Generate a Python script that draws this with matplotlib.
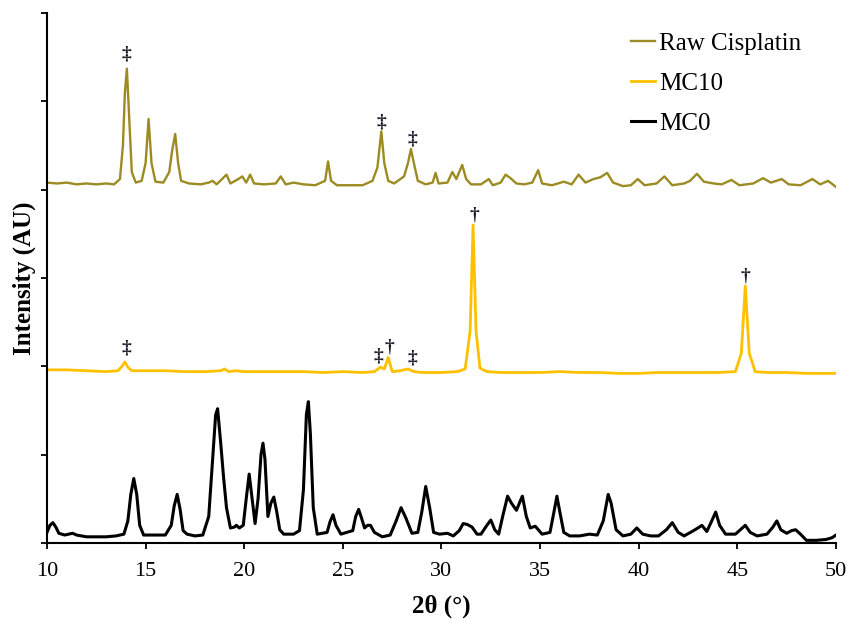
import matplotlib
matplotlib.use("Agg")
import matplotlib.pyplot as plt

# --- data (intensity in arbitrary units, offset stacked) ---
mc0_x = [10.0, 10.15, 10.3, 10.45, 10.6, 10.9, 11.1, 11.3, 11.5, 12.0, 12.5, 13.0, 13.5, 13.9,
         14.1, 14.25, 14.4, 14.55, 14.7, 14.9, 15.5, 16.0, 16.3, 16.45, 16.6, 16.75, 16.9, 17.1,
         17.5, 17.9, 18.2, 18.4, 18.55, 18.65, 18.8, 18.95, 19.1, 19.3, 19.5, 19.6, 19.75, 19.95,
         20.1, 20.25, 20.4, 20.55, 20.7, 20.85, 20.95, 21.05, 21.2, 21.35, 21.5, 21.65, 21.8, 22.0,
         22.5, 22.8, 23.0, 23.15, 23.25, 23.35, 23.5, 23.7, 24.2, 24.35, 24.5, 24.65, 24.9, 25.5,
         25.65, 25.8, 25.95, 26.1, 26.25, 26.4, 26.6, 27.0, 27.4, 27.7, 27.95, 28.2, 28.5, 28.8,
         29.0, 29.2, 29.4, 29.6, 29.9, 30.3, 30.6, 30.9, 31.1, 31.3, 31.55, 31.8, 32.0, 32.3,
         32.5, 32.7, 32.9, 33.1, 33.35, 33.55, 33.8, 34.0, 34.1, 34.3, 34.5, 34.75, 35.1, 35.5,
         35.7, 35.85, 36.0, 36.2, 36.5, 37.0, 37.5, 37.9, 38.2, 38.45, 38.6, 38.85, 39.2, 39.6,
         39.9, 40.2, 40.6, 41.0, 41.4, 41.7, 42.0, 42.3, 42.7, 43.0, 43.2, 43.45, 43.7, 43.9,
         44.1, 44.4, 44.9, 45.2, 45.4, 45.65, 46.0, 46.5, 46.8, 47.0, 47.2, 47.5, 47.75, 47.95,
         48.2, 48.5, 49.0, 49.5, 49.8, 50.0]
mc0_y = [0.12, 0.2, 0.23, 0.18, 0.11, 0.09, 0.1, 0.11, 0.09, 0.07, 0.07, 0.07, 0.08, 0.1,
         0.25, 0.55, 0.73, 0.55, 0.2, 0.09, 0.09, 0.09, 0.2, 0.42, 0.55, 0.38, 0.14, 0.1,
         0.08, 0.09, 0.3, 0.95, 1.45, 1.52, 1.15, 0.75, 0.4, 0.17, 0.18, 0.2, 0.17, 0.2,
         0.5, 0.78, 0.5, 0.22, 0.5, 1.0, 1.13, 0.95, 0.3, 0.45, 0.52, 0.35, 0.15, 0.1,
         0.1, 0.14, 0.6, 1.45, 1.6, 1.25, 0.4, 0.1, 0.12, 0.24, 0.32, 0.2, 0.1, 0.14,
         0.3, 0.38, 0.28, 0.17, 0.2, 0.2, 0.12, 0.07, 0.09, 0.25, 0.4, 0.28, 0.11, 0.12,
         0.35, 0.64, 0.4, 0.12, 0.1, 0.11, 0.08, 0.14, 0.22, 0.21, 0.18, 0.1, 0.1, 0.2,
         0.26, 0.15, 0.1, 0.3, 0.53, 0.45, 0.37, 0.48, 0.53, 0.3, 0.17, 0.19, 0.1, 0.12,
         0.35, 0.53, 0.35, 0.12, 0.08, 0.08, 0.1, 0.09, 0.25, 0.55, 0.45, 0.15, 0.08, 0.1,
         0.17, 0.1, 0.08, 0.08, 0.15, 0.23, 0.12, 0.08, 0.13, 0.17, 0.2, 0.13, 0.25, 0.35,
         0.2, 0.1, 0.1, 0.16, 0.2, 0.12, 0.08, 0.1, 0.18, 0.25, 0.15, 0.11, 0.14, 0.15,
         0.1, 0.03, 0.03, 0.04, 0.06, 0.09]

mc10_x = [10.0, 11.0, 12.0, 13.0, 13.6, 13.8, 13.95, 14.1, 14.3, 15.0, 16.0, 17.0, 18.0, 18.8,
          19.0, 19.2, 19.6, 20.0, 21.0, 22.0, 23.0, 24.0, 25.0, 26.0, 26.6, 26.9, 27.1, 27.3,
          27.5, 27.9, 28.3, 28.6, 29.0, 30.0, 30.8, 31.2, 31.45, 31.6, 31.75, 31.95, 32.3, 33.0,
          34.0, 35.0, 36.0, 37.0, 38.0, 39.0, 40.0, 41.0, 42.0, 43.0, 44.0, 44.9, 45.2, 45.4,
          45.6, 45.9, 46.5, 47.5, 48.5, 49.5, 50.0]
mc10_y = [1.96, 1.96, 1.95, 1.94, 1.95, 2.0, 2.05, 1.99, 1.95, 1.95, 1.95, 1.94, 1.94, 1.95,
          1.97, 1.94, 1.95, 1.94, 1.94, 1.94, 1.94, 1.93, 1.94, 1.93, 1.94, 1.99, 1.97, 2.1,
          1.94, 1.95, 1.97, 1.94, 1.93, 1.93, 1.94, 1.97, 2.4, 3.6, 2.4, 1.98, 1.94, 1.93,
          1.93, 1.93, 1.94, 1.93, 1.93, 1.92, 1.92, 1.93, 1.93, 1.93, 1.93, 1.94, 2.15, 2.91,
          2.15, 1.94, 1.93, 1.93, 1.92, 1.92, 1.92]

raw_x = [10.0, 10.5, 11.0, 11.5, 12.0, 12.5, 13.0, 13.4, 13.7, 13.85, 13.95, 14.05, 14.15, 14.3,
         14.5, 14.8, 15.0, 15.15, 15.3, 15.5, 15.9, 16.2, 16.35, 16.5, 16.65, 16.8, 17.2, 17.8,
         18.2, 18.4, 18.6, 19.1, 19.3, 19.7, 19.9, 20.1, 20.3, 20.5, 21.0, 21.6, 21.85, 22.1,
         22.5, 23.0, 23.6, 24.1, 24.25, 24.4, 24.7, 25.3, 26.0, 26.5, 26.75, 26.95, 27.1, 27.3,
         27.6, 28.1, 28.3, 28.45, 28.6, 28.8, 29.2, 29.55, 29.7, 29.85, 30.3, 30.55, 30.75, 31.05,
         31.25, 31.5, 32.0, 32.4, 32.6, 33.0, 33.25, 33.5, 33.8, 34.2, 34.6, 34.9, 35.1, 35.6,
         36.2, 36.6, 36.95, 37.3, 37.7, 38.05, 38.4, 38.7, 39.2, 39.6, 39.95, 40.3, 40.9, 41.3,
         41.7, 42.3, 42.6, 42.95, 43.3, 43.8, 44.2, 44.7, 45.1, 45.8, 46.3, 46.7, 47.25, 47.6,
         48.2, 48.8, 49.2, 49.6, 50.0]
raw_y = [4.08, 4.07, 4.08, 4.06, 4.07, 4.06, 4.07, 4.06, 4.12, 4.5, 5.1, 5.37, 4.9, 4.2,
         4.08, 4.1, 4.3, 4.8, 4.3, 4.09, 4.08, 4.2, 4.45, 4.63, 4.3, 4.1, 4.07, 4.06,
         4.08, 4.1, 4.06, 4.17, 4.07, 4.12, 4.15, 4.08, 4.17, 4.07, 4.06, 4.07, 4.15, 4.06,
         4.08, 4.06, 4.05, 4.1, 4.32, 4.1, 4.05, 4.05, 4.05, 4.1, 4.25, 4.66, 4.3, 4.1,
         4.07, 4.15, 4.3, 4.46, 4.3, 4.1, 4.06, 4.08, 4.19, 4.07, 4.08, 4.2, 4.12, 4.28,
         4.12, 4.06, 4.06, 4.12, 4.05, 4.08, 4.17, 4.13, 4.07, 4.06, 4.08, 4.22, 4.07, 4.05,
         4.09, 4.06, 4.17, 4.08, 4.12, 4.14, 4.19, 4.08, 4.04, 4.05, 4.12, 4.05, 4.07, 4.15,
         4.05, 4.07, 4.1, 4.18, 4.09, 4.07, 4.06, 4.11, 4.05, 4.07, 4.13, 4.08, 4.12, 4.06,
         4.05, 4.12, 4.06, 4.1, 4.03]

# peak markers: ‡ = cisplatin, † = other phase
mark_x = [14.0, 26.93, 28.5, 14.0, 26.8, 27.38, 28.5, 31.65, 45.39]
mark_y = [5.54, 4.77, 4.57, 2.21, 2.12, 2.22, 2.09, 3.71, 3.02]
mark_sym = ["‡", "‡", "‡", "‡", "‡", "†", "‡", "†", "†"]

xticks = [10, 15, 20, 25, 30, 35, 40, 45, 50]

plt.rcParams["font.family"] = ["Liberation Serif", "DejaVu Serif"]

fig = plt.figure(figsize=(8.51, 6.19), dpi=100)
ax = fig.add_axes([0.0552, 0.1228, 0.9272, 0.8562])

ax.plot(raw_x, raw_y, color="#9C8B22", linewidth=1.7, label="Raw Cisplatin")
ax.plot(mc10_x, mc10_y, color="#FFC000", linewidth=2.0, label="MC10")
ax.plot(mc0_x, mc0_y, color="black", linewidth=2.2, label="MC0")

for x, y, s in zip(mark_x, mark_y, mark_sym):
    ax.text(x, y, s, ha="center", va="center", fontsize=14, fontweight="bold",
            color="#1c1c2a")

ax.set_xlim(10, 50)
ax.set_ylim(0, 6)
ax.set_xticks(xticks)
ax.set_yticks(range(0, 7))
ax.set_yticklabels([])
ax.tick_params(axis="both", direction="out", length=4.5, width=1.3, labelsize=16)
ax.tick_params(axis="x", pad=9)

for side in ["top", "right"]:
    ax.spines[side].set_visible(False)
for side in ["left", "bottom"]:
    ax.spines[side].set_linewidth(1.5)

ax.set_xlabel("2θ (°)", fontsize=18, fontweight="bold", labelpad=10)
ax.set_ylabel("Intensity (AU)", fontsize=18, fontweight="bold")
ax.yaxis.set_label_coords(-0.014, 0.5)

ax.legend(loc="upper left", bbox_to_anchor=(0.742, 0.948), bbox_transform=fig.transFigure,
          frameon=False, fontsize=18, handlelength=0.95, handletextpad=0.15,
          labelspacing=0.7, borderpad=0, borderaxespad=0)

fig.savefig("out.png", dpi=100)
